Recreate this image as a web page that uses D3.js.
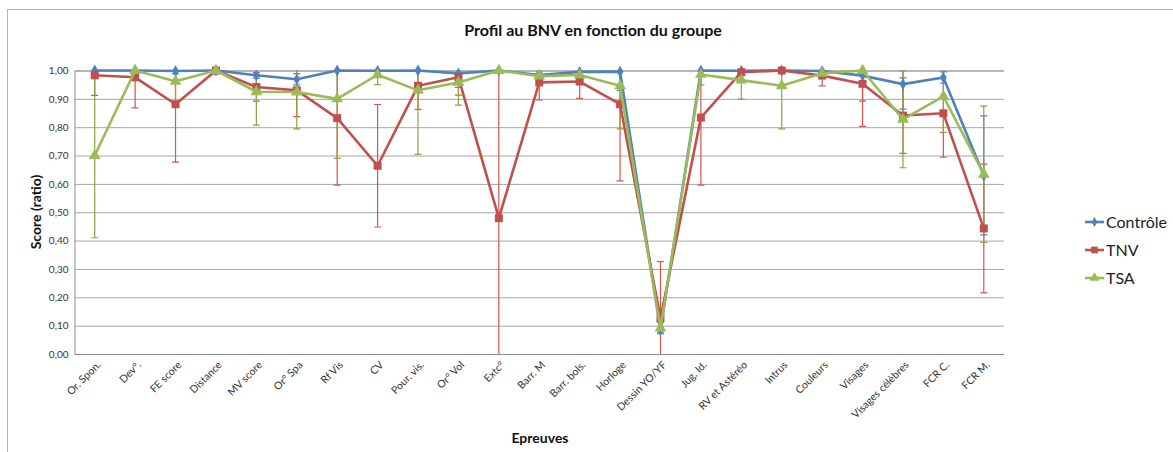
<!DOCTYPE html>
<html>
<head>
<meta charset="utf-8">
<script src="https://cdn.jsdelivr.net/npm/d3@7"></script>
<style>
  body { margin: 0; background: #fff; }
  text { font-family: Lato, "Open Sans", "Liberation Sans", sans-serif; }
</style>
</head>
<body>
<div id="chart"></div>
<script>
// categories (epreuves)
var epreuves = ["Or. Spon.", "Dev°.", "FE score", "Distance", "MV score", "Or° Spa", "Rf Vis", "CV",
  "Pour. vis.", "Or° Vol", "Extc°", "Barr. M", "Barr. bols.", "Horloge", "Dessin YO/YF", "Jug. Id.",
  "RV et Astéréo", "Intrus", "Couleurs", "Visages", "Visages célèbres", "FCR C.", "FCR M."];

var controle = [1.00, 1.00, 0.998, 1.00, 0.983, 0.969, 1.00, 0.999, 1.00, 0.990, 1.00, 0.984, 0.995, 0.996,
  0.085, 1.00, 0.999, 1.00, 0.998, 0.982, 0.952, 0.975, 0.63];
var controle_err = [0, 0, 0.01, 0, 0.01, 0.02, 0, 0.01, 0, 0.05, 0, 0.01, 0.01, 0.066,
  0.01, 0, 0.01, 0, 0.01, 0.09, 0.088, 0.02, 0.21];

var tnv = [0.983, 0.976, 0.881, 1.00, 0.942, 0.930, 0.832, 0.664, 0.946, 0.976, 0.479, 0.958, 0.961, 0.881,
  0.126, 0.834, 0.994, 1.00, 0.982, 0.953, 0.841, 0.849, 0.443];
var tnv_err = [0.071, 0.108, 0.204, 0, 0.05, 0.093, 0.236, 0.216, 0.083, 0.063, 0.53, 0.062, 0.059, 0.27,
  0.20, 0.238, 0.01, 0, 0.036, 0.15, 0.133, 0.155, 0.227];

var tsa = [0.70, 1.00, 0.962, 1.00, 0.925, 0.924, 0.90, 0.985, 0.930, 0.958, 1.00, 0.980, 0.984, 0.946,
  0.091, 0.986, 0.966, 0.946, 0.990, 1.00, 0.828, 0.909, 0.634];
var tsa_err = [0.29, 0.01, 0.076, 0, 0.118, 0.13, 0.21, 0.035, 0.226, 0.08, 0, 0.02, 0.02, 0.152,
  0.02, 0.037, 0.067, 0.152, 0.01, 0, 0.171, 0.127, 0.24];

var y_ticks = [0, 0.1, 0.2, 0.3, 0.4, 0.5, 0.6, 0.7, 0.8, 0.9, 1.0];

var series = [
  {name: "Contrôle", values: controle, err: controle_err, color: "#4f81bd", errColor: "#4f81bd", symbol: d3.symbolDiamond, size: 40},
  {name: "TNV", values: tnv, err: tnv_err, color: "#c0504d", errColor: "#d9534f", symbol: d3.symbolSquare, size: 64},
  {name: "TSA", values: tsa, err: tsa_err, color: "#9bbb59", errColor: "#8fa046", symbol: d3.symbolTriangle, size: 60}
];

const width = 1173;
const height = 452;
const plot_left = 74.5;
const plot_right = 1004;
const plot_top = 70.5;
const plot_bottom = 354;

var svg = d3.select('#chart').append('svg')
  .attr('width', width)
  .attr('height', height);

// outer frame
svg.append('rect')
  .attr('x', 7.5)
  .attr('y', 9.5)
  .attr('width', width)
  .attr('height', height)
  .attr('fill', 'none')
  .attr('stroke', '#b5b5b5');

var x_scale = d3.scaleBand()
  .domain(epreuves)
  .range([plot_left, plot_right]);

var y_scale = d3.scaleLinear()
  .domain([0, 1])
  .range([plot_bottom, plot_top]);

function cx(i) { return x_scale(epreuves[i]) + x_scale.bandwidth() / 2; }

// gridlines
var y_axis = d3.axisLeft(y_scale)
  .tickValues(y_ticks)
  .tickSize(-(plot_right - plot_left))
  .tickPadding(6)
  .tickFormat(function(d) { return d3.format('.2f')(d).replace('.', ','); });

var y_g = svg.append('g')
  .attr('transform', `translate(${plot_left},0)`)
  .call(y_axis);
y_g.select('.domain').attr('stroke', '#8c8c8c');
y_g.selectAll('.tick line').attr('stroke', '#a6a6a6');
y_g.selectAll('.tick text')
  .attr('fill', '#333')
  .style('font-size', '10px');

// x axis
var x_axis = d3.axisBottom(x_scale).tickSize(0).tickFormat('');
svg.append('g')
  .attr('transform', `translate(0,${plot_bottom})`)
  .call(x_axis)
  .select('.domain').attr('stroke', '#8c8c8c');

svg.append('g').selectAll('text')
  .data(epreuves)
  .enter()
  .append('text')
  .attr('transform', function(d, i) { return `translate(${cx(i) + 4},${plot_bottom + 9}) rotate(-45)`; })
  .attr('text-anchor', 'end')
  .attr('dy', '0.35em')
  .attr('fill', '#333')
  .style('font-size', '10.5px')
  .text(function(d) { return d; });

// clip for error bars
svg.append('clipPath').attr('id', 'plot_clip')
  .append('rect')
  .attr('x', plot_left)
  .attr('y', plot_top)
  .attr('width', plot_right - plot_left)
  .attr('height', plot_bottom - plot_top);

var err_group = svg.append('g').attr('clip-path', 'url(#plot_clip)');

series.forEach(function(s) {
  s.values.forEach(function(v, i) {
    var e = s.err[i];
    if (e <= 0) return;
    var x = cx(i);
    var g = err_group.append('g')
      .attr('stroke', s.errColor)
      .attr('stroke-width', 1.2);
    g.append('line')
      .attr('x1', x).attr('x2', x)
      .attr('y1', y_scale(v - e)).attr('y2', y_scale(v + e));
    [v - e, v + e].forEach(function(c) {
      g.append('line')
        .attr('x1', x - 3.5).attr('x2', x + 3.5)
        .attr('y1', y_scale(c)).attr('y2', y_scale(c));
    });
  });
});

var line = d3.line()
  .x(function(d, i) { return cx(i); })
  .y(function(d) { return y_scale(d); });

series.forEach(function(s) {
  svg.append('path')
    .datum(s.values)
    .attr('fill', 'none')
    .attr('stroke', s.color)
    .attr('stroke-width', 2.6)
    .attr('stroke-linejoin', 'round')
    .attr('d', line);

  svg.append('g').selectAll('path')
    .data(s.values)
    .enter()
    .append('path')
    .attr('d', d3.symbol().type(s.symbol).size(s.size))
    .attr('transform', function(d, i) { return `translate(${cx(i)},${y_scale(d)})`; })
    .attr('fill', s.color);
});

// title
svg.append('text')
  .attr('x', 593)
  .attr('y', 36)
  .attr('text-anchor', 'middle')
  .style('font-size', '16px')
  .style('font-weight', 'bold')
  .attr('fill', '#111')
  .text('Profil au BNV en fonction du groupe');

// axis titles
svg.append('text')
  .attr('transform', 'translate(41,212) rotate(-90)')
  .attr('text-anchor', 'middle')
  .style('font-size', '14px')
  .style('font-weight', 'bold')
  .attr('fill', '#111')
  .text('Score (ratio)');

svg.append('text')
  .attr('x', 540)
  .attr('y', 443)
  .attr('text-anchor', 'middle')
  .style('font-size', '14px')
  .style('font-weight', 'bold')
  .attr('fill', '#111')
  .text('Epreuves');

// legend
var legend_y = [222, 250, 278];
series.forEach(function(s, i) {
  var lg = svg.append('g').attr('transform', `translate(1085,${legend_y[i]})`);
  lg.append('line')
    .attr('x1', 0).attr('x2', 19)
    .attr('stroke', s.color)
    .attr('stroke-width', 2.6);
  lg.append('path')
    .attr('d', d3.symbol().type(s.symbol).size(s.size * 0.7))
    .attr('transform', 'translate(9.5,0)')
    .attr('fill', s.color);
  lg.append('text')
    .attr('x', 21)
    .attr('dy', '0.35em')
    .style('font-size', '16px')
    .attr('fill', '#222')
    .text(s.name);
});
</script>
</body>
</html>
